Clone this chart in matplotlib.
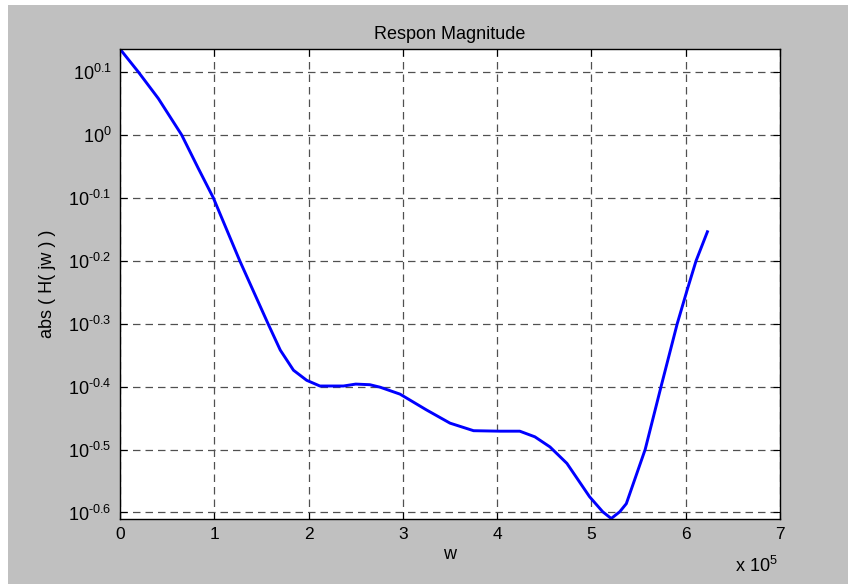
import numpy as np
import matplotlib
matplotlib.use("Agg")
import matplotlib.pyplot as plt
from matplotlib.patches import Rectangle

plt.rcParams['font.family'] = ['Liberation Sans', 'DejaVu Sans']
plt.rcParams['mathtext.fontset'] = 'custom'
plt.rcParams['mathtext.rm'] = 'Liberation Sans'
plt.rcParams['mathtext.it'] = 'Liberation Sans'
plt.rcParams['mathtext.bf'] = 'Liberation Sans'

# frequency w (units of 1e5)
w_e5 = [0, 0.195, 0.406, 0.654, 0.83, 0.99, 1.27, 1.57, 1.70, 1.84, 1.98, 2.12,
        2.37, 2.50, 2.65, 2.76, 2.97, 3.25, 3.50, 3.75, 4.03, 4.24, 4.40, 4.56,
        4.74, 4.98, 5.12, 5.21, 5.30, 5.37, 5.57, 5.74, 5.91, 6.01, 6.11, 6.23]
# |H(jw)|
mag = [1.3695, 1.2589, 1.1429, 1.0000, 0.8851, 0.7943, 0.6310, 0.5012, 0.4550,
       0.4227, 0.4074, 0.3990, 0.3990, 0.4018, 0.4009, 0.3972, 0.3873, 0.3656,
       0.3483, 0.3388, 0.3382, 0.3382, 0.3313, 0.3193, 0.3006, 0.2661, 0.2518,
       0.2457, 0.2518, 0.2594, 0.3163, 0.3990, 0.5012, 0.5636, 0.6310, 0.7016]

ytick_exp = ['0.1', '0', '-0.1', '-0.2', '-0.3', '-0.4', '-0.5', '-0.6']
xticks = [0, 1, 2, 3, 4, 5, 6, 7]

fig = plt.figure(figsize=(8.48, 5.84), dpi=100, facecolor='white')
fig.patches.append(Rectangle((8/848, 0), 1, 1 - 5/584, transform=fig.transFigure,
                             facecolor='#C0C0C0', edgecolor='none', zorder=-10))
ax = fig.add_axes([120/848, 1 - 518.5/584, 660/848, (518.5 - 49)/584])
ax.set_facecolor('white')
ax.plot(w_e5, mag, color='#0000FF', linewidth=2.1)
ax.set_yscale('log')
ax.set_xlim(0, 7)
ax.set_ylim(min(mag), max(mag))
ax.set_yticks([10**float(e) for e in ytick_exp])
ax.set_yticklabels(['$10^{%s}$' % e.replace('-', '\u2010') for e in ytick_exp])
ax.yaxis.set_minor_locator(matplotlib.ticker.NullLocator())
ax.set_xticks(xticks)
ax.set_xticklabels([str(t) for t in xticks])
ax.tick_params(direction='in', length=5, width=0.8, top=True, right=True,
               labelsize=13, pad=6, colors='black')
ax.tick_params(axis='x', labelsize=12.5)
ax.grid(True, which='major', linestyle=(0, (6, 4)), color='#505050', linewidth=0.9)
for s in ax.spines.values():
    s.set_linewidth(1.0)
    s.set_color('black')
ax.set_title('Respon Magnitude', fontsize=13, pad=7)
ax.set_xlabel('w', fontsize=13, labelpad=3)
ax.set_ylabel('abs ( H( jw ) )', fontsize=13, labelpad=9)
fig.text(735/848, 1 - 566/584, 'x $10^{5}$', fontsize=13, ha='left', va='center')
fig.savefig('out.png', dpi=100, facecolor=fig.get_facecolor())
